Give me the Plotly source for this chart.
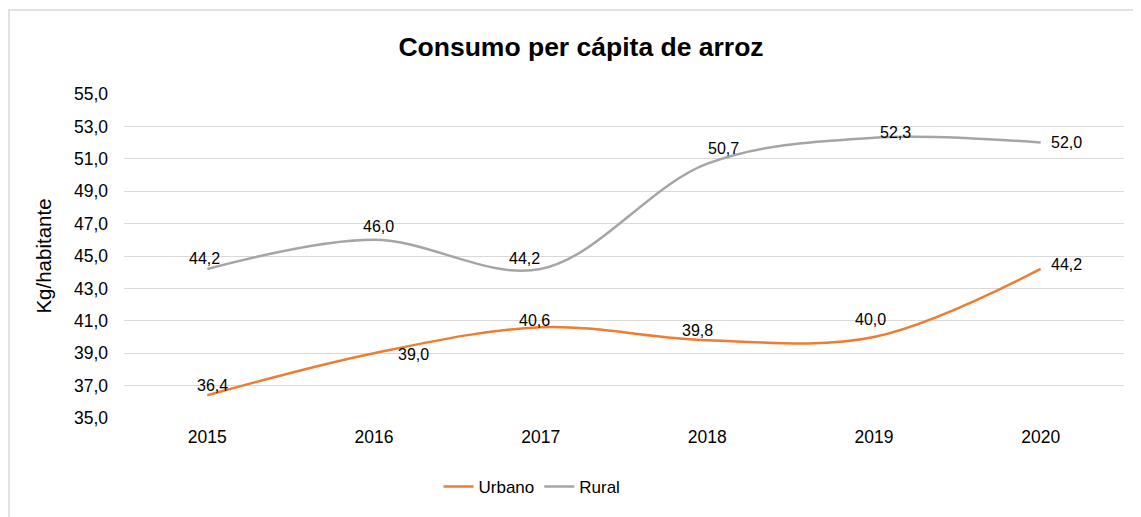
import plotly.graph_objects as go

years = ["2015", "2016", "2017", "2018", "2019", "2020"]
urbano = [36.4, 39.0, 40.6, 39.8, 40.0, 44.2]
rural = [44.2, 46.0, 44.2, 50.7, 52.3, 52.0]
y_ticks = [35 + 2 * i for i in range(11)]
y_tick_labels = [f"{v:.1f}".replace(".", ",") for v in y_ticks]

# label offsets (px) relative to each point, as in the reference
urbano_dx = [5, 39, -6, -10, -4, 26]
urbano_dy = [10, -1, 7, 10, 18, 4]
rural_dx = [-3, 4, -16, 16, 21, 26]
rural_dy = [10, 13, 10, 15, 5, 0]

def fmt(vals):
    return [f"{v:.1f}".replace(".", ",") for v in vals]

font = "Liberation Sans, Arial, sans-serif"

# page body has an 8px margin; figure sized to fit the window
W, H = 1133, 509
L, T, PW, PH = 116, 86, 1000, 324

fig = go.Figure()
fig.add_trace(go.Scatter(
    x=years, y=urbano, name="Urbano", mode="lines",
    line=dict(color="#ED7D31", width=2.5, shape="spline", smoothing=1.0),
))
fig.add_trace(go.Scatter(
    x=years, y=rural, name="Rural", mode="lines",
    line=dict(color="#A5A5A5", width=2.5, shape="spline", smoothing=1.0),
))

for vals, dxs, dys in ((urbano, urbano_dx, urbano_dy), (rural, rural_dx, rural_dy)):
    for i, (yv, txt, dx, dy) in enumerate(zip(vals, fmt(vals), dxs, dys)):
        fig.add_annotation(x=i, y=yv, xref="x", yref="y", text=txt, showarrow=False,
                           xanchor="center", yanchor="middle", xshift=dx, yshift=dy,
                           font=dict(family=font, size=16, color="#000000"))

fig.update_layout(
    width=W, height=H,
    margin=dict(l=L, r=W - L - PW, t=T, b=H - T - PH, autoexpand=False),
    paper_bgcolor="white", plot_bgcolor="white",
    font=dict(family=font, color="#000000"),
    title=dict(text="<b>Consumo per cápita de arroz</b>", x=(581 - 8) / W, xanchor="center",
               y=1 - 39 / H, yanchor="middle",
               font=dict(family=font, size=26.5, color="#000000")),
    legend=dict(orientation="h", x=(532 - 8 - L) / PW, xanchor="center",
                y=(T + PH - 479) / PH, yanchor="middle",
                font=dict(family=font, size=17, color="#000000"),
                itemwidth=30, tracegroupgap=0),
    showlegend=True,
)
fig.update_xaxes(
    type="category", range=[-0.5, 5.5], showgrid=False, showline=False,
    ticks="", tickfont=dict(family=font, size=17.5, color="#000000"),
    ticklabelstandoff=6, automargin=False,
)
fig.update_yaxes(
    range=[35, 55], tickvals=y_ticks, ticktext=y_tick_labels,
    showgrid=True, gridcolor="#D9D9D9", gridwidth=1.3, zeroline=False,
    showline=False, ticks="", ticklabelstandoff=15, automargin=False,
    tickfont=dict(family=font, size=17.5, color="#000000"),
    title=dict(text="Kg/habitante", font=dict(family=font, size=20.5, color="#000000"), standoff=16),
)
fig.add_shape(type="rect", xref="paper", yref="paper",
              x0=(1 - L) / PW, x1=1.1, y0=-0.5, y1=(T + PH - 2) / PH,
              line=dict(color="#D9D9D9", width=1.5), fillcolor="rgba(0,0,0,0)", layer="below")

fig.write_html("out.html")
